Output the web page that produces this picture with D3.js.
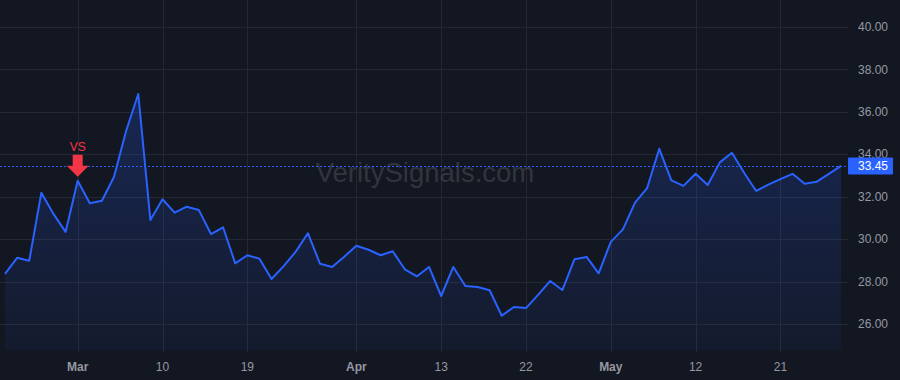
<!DOCTYPE html>
<html>
<head>
<meta charset="utf-8">
<script src="https://cdn.jsdelivr.net/npm/d3@7"></script>
<style>
  html, body { margin: 0; padding: 0; background: #131722; }
  svg { display: block; font-family: "Liberation Sans", Arial, sans-serif; }
</style>
</head>
<body>
<div id="chart"></div>
<script>
// closing prices, one per bar
var prices = [
  28.36, 29.12, 28.98, 32.19, 31.19, 30.34, 32.75, 31.69, 31.81, 32.94,
  35.11, 36.84, 30.90, 31.88, 31.25, 31.53, 31.37, 30.24, 30.56, 28.86,
  29.24, 29.08, 28.12, 28.73, 29.41, 30.28, 28.84, 28.69, 29.17, 29.69,
  29.50, 29.24, 29.43, 28.58, 28.25, 28.69, 27.32, 28.69, 27.79, 27.74,
  27.59, 26.39, 26.80, 26.75, 27.37, 28.03, 27.60, 29.05, 29.16, 28.39,
  29.87, 30.46, 31.72, 32.41, 34.26, 32.77, 32.51, 33.08, 32.55, 33.62,
  34.07, 33.13, 32.27, 32.57, 32.83, 33.08, 32.61, 32.71, 33.08, 33.45
];
var tickBars = [6, 13, 20, 29, 36, 43, 50, 57, 64];
var tickLabels = ["Mar", "10", "19", "Apr", "13", "22", "May", "12", "21"];
var monthTicks = ["Mar", "Apr", "May"];
var priceTicks = [26, 28, 30, 32, 34, 36, 38, 40];
var signalBar = 6;
var signalText = "VS";
var lastPrice = 33.45;

var W = 900, H = 380;
var plotRight = 848, plotBottom = 352;

var x = d3.scaleLinear().domain([0, prices.length - 1]).range([5, 841]);
var y = d3.scaleLinear().domain([26, 40]).range([324, 27]);

var svg = d3.select("#chart").append("svg")
    .attr("width", W)
    .attr("height", H);

svg.append("rect")
    .attr("width", W).attr("height", H)
    .attr("fill", "#131722");

var defs = svg.append("defs");
var grad = defs.append("linearGradient")
    .attr("id", "areaFill")
    .attr("x1", 0).attr("y1", 0).attr("x2", 0).attr("y2", 1);
grad.append("stop").attr("offset", "0%").attr("stop-color", "#2962ff").attr("stop-opacity", 0.22);
grad.append("stop").attr("offset", "100%").attr("stop-color", "#2962ff").attr("stop-opacity", 0.05);

// grid
svg.append("g").selectAll("line")
  .data(priceTicks)
  .enter().append("line")
    .attr("x1", 0).attr("x2", plotRight)
    .attr("y1", function(d) { return Math.round(y(d)) + 0.5; })
    .attr("y2", function(d) { return Math.round(y(d)) + 0.5; })
    .attr("stroke", "#242833");

svg.append("g").selectAll("line")
  .data(tickBars)
  .enter().append("line")
    .attr("x1", function(d) { return Math.round(x(d)) + 0.5; })
    .attr("x2", function(d) { return Math.round(x(d)) + 0.5; })
    .attr("y1", 0).attr("y2", plotBottom)
    .attr("stroke", "#242833");

// watermark
svg.append("text")
    .attr("x", 425).attr("y", 182)
    .attr("text-anchor", "middle")
    .attr("font-size", 27.5)
    .attr("fill", "#ffffff")
    .attr("fill-opacity", 0.14)
    .text("VeritySignals.com");

// area + line
var area = d3.area()
    .x(function(d, i) { return x(i); })
    .y0(plotBottom - 2)
    .y1(function(d) { return y(d); });

var line = d3.line()
    .x(function(d, i) { return x(i); })
    .y(function(d) { return y(d); });

svg.append("path")
    .datum(prices)
    .attr("d", area)
    .attr("fill", "url(#areaFill)");

svg.append("path")
    .datum(prices)
    .attr("d", line)
    .attr("fill", "none")
    .attr("stroke", "#2962ff")
    .attr("stroke-width", 2)
    .attr("stroke-linejoin", "round");

// last price line
svg.append("line")
    .attr("x1", 0).attr("x2", plotRight)
    .attr("y1", Math.round(y(lastPrice)) + 0.5)
    .attr("y2", Math.round(y(lastPrice)) + 0.5)
    .attr("stroke", "#2962ff")
    .attr("stroke-dasharray", "2,2");

// signal marker
var sx = x(signalBar), sy = y(prices[signalBar]);
var tip = sy - 4;
svg.append("path")
    .attr("d", "M" + (sx - 5) + "," + (tip - 22) +
               "H" + (sx + 5) + "V" + (tip - 11) +
               "H" + (sx + 11) + "L" + sx + "," + tip +
               "L" + (sx - 11) + "," + (tip - 11) +
               "H" + (sx - 5) + "Z")
    .attr("fill", "#f23645");
svg.append("text")
    .attr("x", sx).attr("y", tip - 26)
    .attr("text-anchor", "middle")
    .attr("font-size", 12)
    .attr("fill", "#f23645")
    .text(signalText);

// price axis (the 34.00 label sits partly under the last-price tag, as in the source)
svg.append("g").selectAll("text")
  .data(priceTicks)
  .enter().append("text")
    .attr("x", 858)
    .attr("y", function(d) { return y(d); })
    .attr("dy", "0.35em")
    .attr("font-size", 12)
    .attr("fill", "#9598a1")
    .text(function(d) { return d3.format(".2f")(d); });

var ly = y(lastPrice);
svg.append("rect")
    .attr("x", plotRight).attr("y", ly - 8.5)
    .attr("width", 45).attr("height", 17)
    .attr("rx", 1)
    .attr("fill", "#2962ff");
svg.append("text")
    .attr("x", 858).attr("y", ly)
    .attr("dy", "0.35em")
    .attr("font-size", 12)
    .attr("fill", "#ffffff")
    .text(d3.format(".2f")(lastPrice));

// time axis
svg.append("g").selectAll("text")
  .data(tickBars)
  .enter().append("text")
    .attr("x", function(d) { return x(d); })
    .attr("y", 367)
    .attr("dy", "0.35em")
    .attr("text-anchor", "middle")
    .attr("font-size", 12)
    .attr("font-weight", function(d, i) {
      return monthTicks.indexOf(tickLabels[i]) >= 0 ? "bold" : "normal"; })
    .attr("fill", "#9598a1")
    .text(function(d, i) { return tickLabels[i]; });
</script>
</body>
</html>
